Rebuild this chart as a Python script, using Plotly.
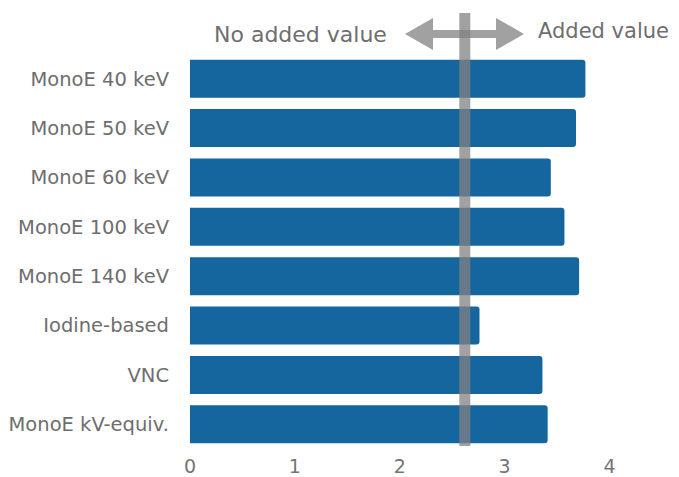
import plotly.graph_objects as go

categories = ["MonoE 40 keV", "MonoE 50 keV", "MonoE 60 keV", "MonoE 100 keV",
              "MonoE 140 keV", "Iodine-based", "VNC", "MonoE kV-equiv."]
values = [3.77, 3.68, 3.44, 3.57, 3.71, 2.76, 3.36, 3.41]
threshold = 2.62
x_ticks = [0, 1, 2, 3, 4]

BAR = "#15659f"
GREY = "rgba(129,129,129,0.75)"
TXT = "#6e6e6e"
FONT = "DejaVu Sans"

OFF = 8  # page body margin
W, H = 679, 477
L, R, T, B = 190 - OFF, 25, 54 - OFF, 477 - (449 - OFF)
xmax = 4.5
pw = W - L - R
ph = H - T - B

def px2x(px):
    return (px - OFF - L) / pw * xmax

def py2p(py):
    return (H - B - (py - OFF)) / ph

fig = go.Figure(go.Bar(
    x=values, y=categories, orientation="h",
    marker=dict(color=BAR, line=dict(width=0)),
    width=0.77, hoverinfo="skip",
))

# vertical threshold bar
fig.add_shape(type="rect", xref="x", yref="paper",
              x0=threshold - 5.5 / pw * xmax, x1=threshold + 5.5 / pw * xmax,
              y0=py2p(446), y1=py2p(13),
              fillcolor=GREY, line=dict(width=0), layer="above")

# double-headed arrow
yc = 34
pts = [(405, yc), (433, yc - 16), (433, yc - 4), (496, yc - 4), (496, yc - 16),
       (524, yc), (496, yc + 16), (496, yc + 4), (433, yc + 4), (433, yc + 16)]
path = "M " + " L ".join(f"{px2x(a):.4f},{py2p(b):.4f}" for a, b in pts) + " Z"
fig.add_shape(type="path", xref="x", yref="paper", path=path,
              fillcolor=GREY, line=dict(width=0), layer="above")

fig.add_annotation(text="No added value", xref="x", yref="paper",
                   x=px2x(389), y=py2p(35), xanchor="right", yanchor="middle",
                   showarrow=False, font=dict(size=22, color=TXT, family=FONT))
fig.add_annotation(text="Added value", xref="x", yref="paper",
                   x=px2x(536), y=py2p(31), xanchor="left", yanchor="middle",
                   showarrow=False, font=dict(size=21, color=TXT, family=FONT))

fig.update_layout(
    width=W, height=H,
    margin=dict(l=L, r=R, t=T, b=B, pad=0),
    paper_bgcolor="white", plot_bgcolor="white",
    showlegend=False,
    barcornerradius=3,
    font=dict(family=FONT, color=TXT),
    xaxis=dict(range=[0, xmax], tickvals=x_ticks, showgrid=False, zeroline=False,
               showline=False, ticks="", ticklabelstandoff=4,
               tickfont=dict(size=19, color="#747474"),
               automargin=False, fixedrange=True),
    yaxis=dict(autorange="reversed", showgrid=False, zeroline=False, showline=False,
               ticks="", ticklabelstandoff=20, automargin=False,
               tickfont=dict(size=19.5, color="#6e6e6e"), fixedrange=True),
)

fig.write_html("out.html")
